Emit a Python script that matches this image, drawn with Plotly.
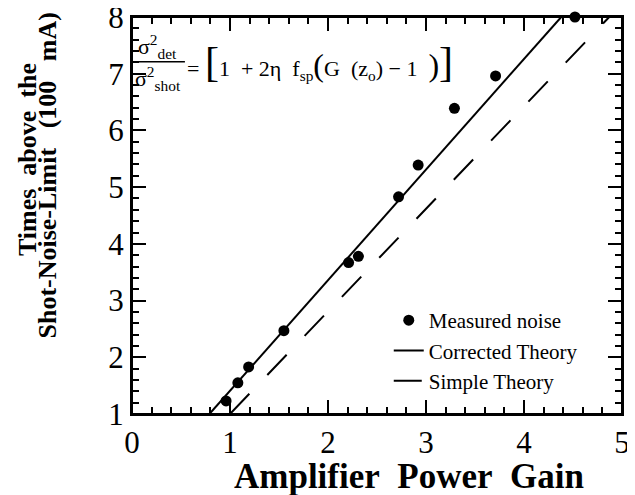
import plotly.graph_objects as go

# Data
gain = [0.96, 1.08, 1.19, 1.55, 2.21, 2.31, 2.72, 2.92, 3.29, 3.71, 4.52]
noise = [1.23, 1.55, 1.83, 2.47, 3.67, 3.78, 4.83, 5.39, 6.39, 6.96, 8.0]

corrected_gain = [0.79, 4.38]
corrected_val = [1.0, 8.0]

simple_gain = [1.0, 4.87]
simple_val = [1.0, 8.0]

x_range = [0, 5]
y_range = [1, 8]

SERIF = "Liberation Serif, Times New Roman, serif"

fig = go.Figure()
fig.add_trace(go.Scatter(
    x=gain, y=noise, mode="markers", name="Measured noise",
    marker=dict(color="black", size=11), cliponaxis=False))
fig.add_trace(go.Scatter(
    x=corrected_gain, y=corrected_val, mode="lines", name="Corrected Theory",
    line=dict(color="black", width=2)))
fig.add_trace(go.Scatter(
    x=simple_gain, y=simple_val, mode="lines", name="Simple Theory",
    line=dict(color="black", width=2, dash="28px,26px")))

axis_common = dict(
    showline=True, linecolor="black", linewidth=2, mirror="allticks",
    ticks="inside", ticklen=14, tickwidth=2, tickcolor="#000000",
    showgrid=False, zeroline=False, automargin=False,
    tickmode="linear", dtick=1,
    ticklabeloverflow="allow",
    tickfont=dict(family=SERIF, size=31, color="black"),
    minor=dict(ticks="inside", dtick=0.2, ticklen=7, tickwidth=2,
               tickcolor="#000000", showgrid=False),
)

fig.update_xaxes(range=x_range, tick0=0, **axis_common)
fig.update_yaxes(range=y_range, tick0=1, **axis_common)

nb = "\u00a0"
annotations = [
    dict(text="<b>Amplifier" + nb * 2 + "Power" + nb * 2 + "Gain</b>",
         x=0.565, y=-0.158, xref="paper", yref="paper", showarrow=False,
         xanchor="center", yanchor="middle",
         font=dict(family=SERIF, size=35, color="black")),
    dict(text="<b>Times" + nb * 2 + "above" + nb * 2 + "the</b>",
         x=-0.212, y=0.64, xref="paper", yref="paper", showarrow=False,
         textangle=-90, xanchor="center", yanchor="middle",
         font=dict(family=SERIF, size=26, color="black")),
    dict(text="<b>Shot-Noise-Limit" + nb * 3 + "(100" + nb * 3 + "mA)</b>",
         x=-0.172, y=0.60, xref="paper", yref="paper", showarrow=False,
         textangle=-90, xanchor="center", yanchor="middle",
         font=dict(family=SERIF, size=26, color="black")),
    dict(text="σ<sup>2</sup><sub>det</sub>",
         x=0.053, y=0.925, xref="paper", yref="paper", showarrow=False,
         xanchor="center", yanchor="middle",
         font=dict(family=SERIF, size=22, color="black")),
    dict(text="σ<sup>2</sup><sub>shot</sub>",
         x=0.053, y=0.845, xref="paper", yref="paper", showarrow=False,
         xanchor="center", yanchor="middle",
         font=dict(family=SERIF, size=22, color="black")),
    dict(text="= <span style='font-size:42px'>[</span>1" + nb * 2 + "+ 2η" + nb * 2
         + "f<sub>sp</sub><span style='font-size:32px'>(</span>G" + nb * 2
         + "(z<sub>o</sub>) − 1" + nb * 2
         + "<span style='font-size:32px'>)</span><span style='font-size:42px'>]</span>",
         x=0.108, y=0.887, xref="paper", yref="paper", showarrow=False,
         xanchor="left", yanchor="middle",
         font=dict(family=SERIF, size=22, color="black")),
]

fig.update_layout(
    template="none",
    width=627, height=487,
    margin=dict(l=124, r=13, t=9, b=81, autoexpand=False),
    plot_bgcolor="white", paper_bgcolor="white",
    annotations=annotations,
    shapes=[
        dict(type="line", xref="paper", yref="paper",
             x0=0.006, x1=0.108, y0=0.887, y1=0.887,
             line=dict(color="black", width=1.5)),
        dict(type="rect", xref="paper", yref="paper",
             x0=0, x1=1, y0=0, y1=1, layer="above",
             line=dict(color="black", width=2)),
    ],
    showlegend=True,
    legend=dict(x=0.524, y=0.287, xanchor="left", yanchor="top",
                bgcolor="rgba(0,0,0,0)",
                font=dict(family=SERIF, size=21, color="black"),
                tracegroupgap=0, itemwidth=30),
)

fig.write_html("out.html")
